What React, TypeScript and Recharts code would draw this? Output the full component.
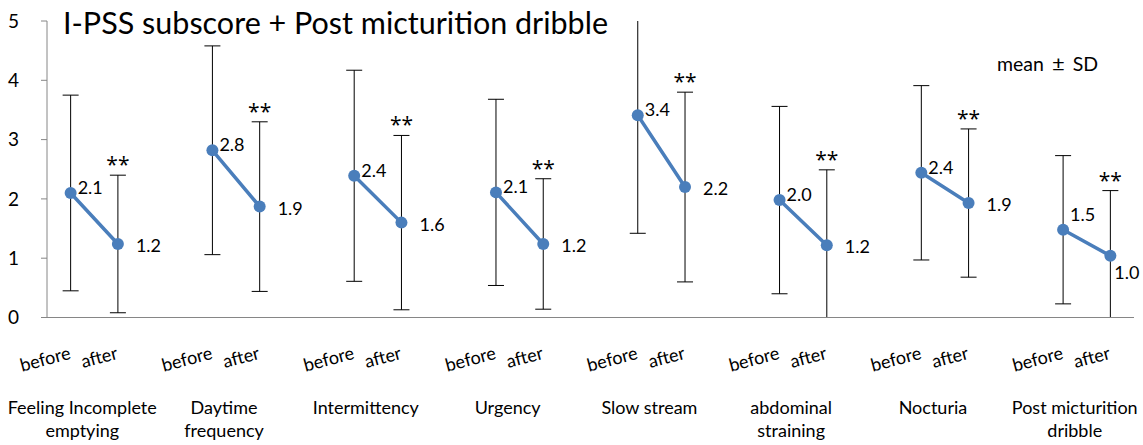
import React from 'react';
import { LineChart, Line, XAxis, YAxis, ErrorBar, LabelList } from 'recharts';

const categories: string[][] = [
  ['Feeling Incomplete', 'emptying'],
  ['Daytime', 'frequency'],
  ['Intermittency'],
  ['Urgency'],
  ['Slow stream'],
  ['abdominal', 'straining'],
  ['Nocturia'],
  ['Post micturition', 'dribble'],
];
const phaseLabels = ['before', 'after'];
const beforeMean = [2.1, 2.82, 2.39, 2.11, 3.41, 1.98, 2.44, 1.48];
const beforeSD = [1.65, 1.76, 1.78, 1.57, 1.99, 1.58, 1.47, 1.25];
const afterMean = [1.24, 1.87, 1.6, 1.24, 2.2, 1.22, 1.93, 1.04];
const afterSD = [1.16, 1.43, 1.47, 1.1, 1.6, 1.27, 1.25, 1.1];
const afterMarks = ['**', '**', '**', '**', '**', '**', '**', '**'];
const yTicks = [0, 1, 2, 3, 4, 5];
const title = 'I-PSS subscore + Post micturition dribble';

const FONT = 'Lato, "Open Sans", sans-serif';
const BLUE = '#4a7ebb';
const GRAY = '#868686';

type Row = { x: number; cat: number; phase: string; mean: number | null; sd: number | null; top: number | null; mark: string };
const rows: Row[] = [];
categories.forEach((_, i) => {
  const base = i * 3;
  rows.push({ x: base + 0.5, cat: i, phase: 'before', mean: beforeMean[i], sd: beforeSD[i], top: null, mark: '' });
  rows.push({ x: base + 1.5, cat: i, phase: 'after', mean: afterMean[i], sd: afterSD[i], top: afterMean[i] + afterSD[i], mark: afterMarks[i] });
  if (i < categories.length - 1) rows.push({ x: base + 2.5, cat: i, phase: 'gap', mean: null, sd: null, top: null, mark: '' });
});
const slotCount = categories.length * 3 - 1;
const boundaryTicks = Array.from({ length: slotCount + 1 }, (_, i) => i);
const phaseTicks = rows.filter(r => r.phase !== 'gap').map(r => r.x);
const catTicks = categories.map((_, i) => i * 3 + 1);
const lastCat = categories.length - 1;

const PhaseTick = (props: any) => {
  const { x, y, payload } = props;
  const idx = Math.floor(payload.value) % 3;
  const label = phaseLabels[idx];
  const ty = y + 35;
  return (
    <text x={x + 1} y={ty} textAnchor="end" transform={`rotate(-15, ${x + 1}, ${ty})`} fontSize={18} fontFamily={FONT} fill="#000">
      {label}
    </text>
  );
};

const CatTick = (props: any) => {
  const { x, y, payload } = props;
  const i = Math.round((payload.value - 1) / 3);
  const lines = categories[i] || [];
  return (
    <text textAnchor="middle" fontSize={18} fontFamily={FONT} fill="#000">
      {lines.map((l, k) => (
        <tspan key={k} x={x - 12} y={y + 42.5 + k * 23}>{l}</tspan>
      ))}
    </text>
  );
};

const ValueLabel = (props: any) => {
  const { x, y, value, index } = props;
  if (value == null) return null;
  const r = rows[index];
  const after = r && r.phase === 'after';
  let dx = after ? 18 : 7;
  let dy = after ? 1 : -6;
  if (r && r.cat === lastCat) {
    dx = after ? 4 : 7;
    dy = after ? 16 : -16;
  }
  return (
    <text x={x + dx} y={y + dy} dominantBaseline="central" fontSize={18} fontFamily={FONT} fill="#000">
      {Number(value).toFixed(1)}
    </text>
  );
};

const MarkLabel = (props: any) => {
  const { x, y, index } = props;
  const r = rows[index];
  if (!r || !r.mark || y == null) return null;
  return (
    <text x={x} y={y - 3} textAnchor="middle" fontSize={21} fontFamily='"Open Sans", sans-serif' fill="#000">
      {r.mark}
    </text>
  );
};

export default function App() {
  return (
    <div style={{ position: 'absolute', left: 0, top: 0, width: 1143, height: 445, background: '#fff', overflow: 'hidden' }}>
      <style>{`.recharts-errorBars { clip-path: url(#eb-clip); }`}</style>
      <svg width={0} height={0} style={{ position: 'absolute' }}>
        <defs>
          <clipPath id="eb-clip" clipPathUnits="userSpaceOnUse">
            <rect x={0} y={21} width={1143} height={296.5} />
          </clipPath>
        </defs>
      </svg>
      <LineChart width={1143} height={445} data={rows} margin={{ top: 21, right: 9, left: 0, bottom: 0 }}>
        <XAxis xAxisId="a_main" type="number" dataKey="x" domain={[0, slotCount]} ticks={boundaryTicks} allowDataOverflow
          tick={false} tickSize={6} height={6} axisLine={{ stroke: GRAY }} tickLine={{ stroke: GRAY }} />
        <XAxis xAxisId="b_phase" type="number" dataKey="x" domain={[0, slotCount]} ticks={phaseTicks} allowDataOverflow
          tick={<PhaseTick />} tickSize={0} tickMargin={0} height={48} axisLine={false} tickLine={false} interval={0} />
        <XAxis xAxisId="c_cat" type="number" dataKey="x" domain={[0, slotCount]} ticks={catTicks} allowDataOverflow
          tick={<CatTick />} tickSize={0} tickMargin={0} height={73.5} axisLine={false} tickLine={false} interval={0} />
        <YAxis type="number" domain={[0, 5]} ticks={yTicks} allowDataOverflow width={47} interval={0}
          axisLine={{ stroke: GRAY }} tickLine={{ stroke: GRAY }} tickSize={6} tickMargin={22}
          tick={{ fill: '#000', fontSize: 19, fontFamily: FONT }} />
        <Line xAxisId="a_main" dataKey="mean" stroke={BLUE} strokeWidth={3.5} connectNulls={false} isAnimationActive={false}
          dot={{ r: 6, fill: BLUE, stroke: BLUE, strokeWidth: 0 }} activeDot={false}>
          <ErrorBar dataKey="sd" width={8} stroke="#000" strokeWidth={1} direction="y" clipPath="url(#eb-clip)" />
          <LabelList dataKey="mean" content={<ValueLabel />} />
        </Line>
        <Line xAxisId="a_main" dataKey="top" stroke="none" dot={false} activeDot={false} isAnimationActive={false} connectNulls={false}>
          <LabelList dataKey="top" content={<MarkLabel />} />
        </Line>
      </LineChart>
      <div style={{ position: 'absolute', left: 63, top: 4, fontFamily: FONT, fontSize: 30.5, color: '#000', whiteSpace: 'nowrap', lineHeight: '36px' }}>{title}</div>
      <div style={{ position: 'absolute', left: 997, top: 50.5, fontFamily: FONT, fontSize: 19.5, color: '#000', whiteSpace: 'nowrap', lineHeight: '24px' }}>
        <span>mean</span><span style={{ margin: '0 8px', fontSize: 22 }}>{'\u00B1'}</span><span>SD</span>
      </div>
    </div>
  );
}
